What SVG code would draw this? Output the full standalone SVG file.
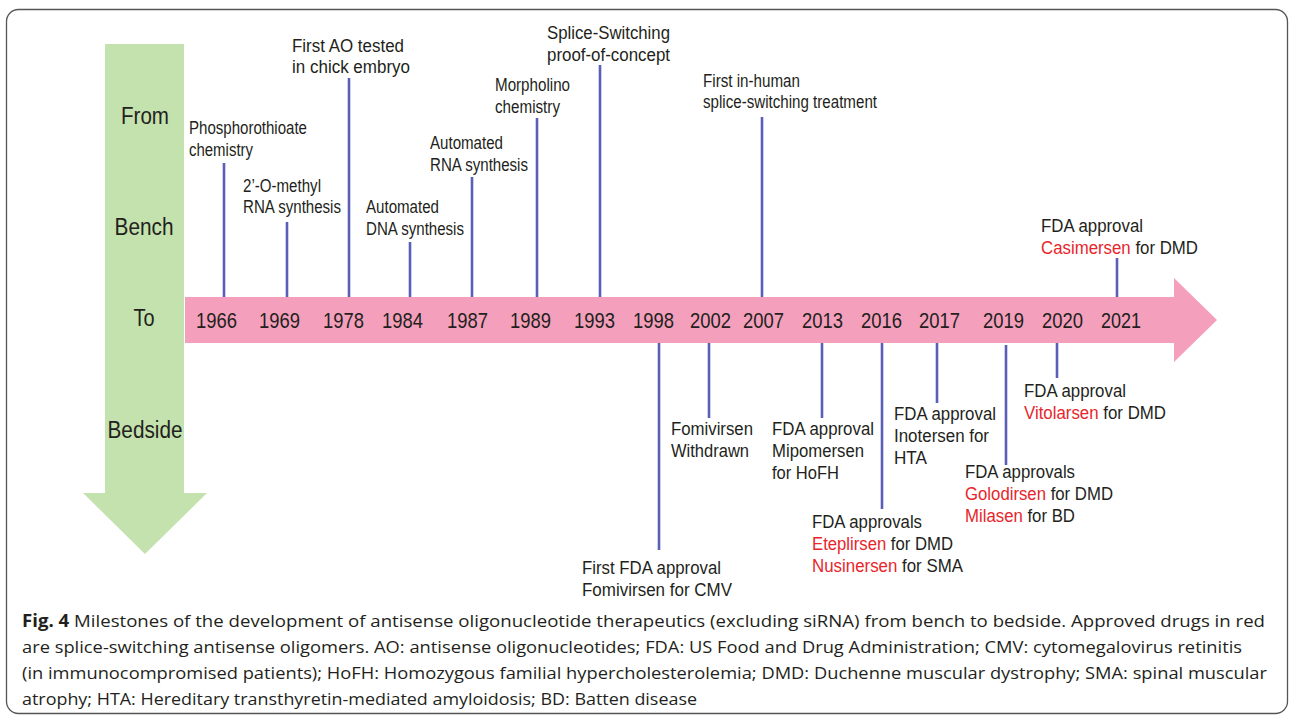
<svg xmlns="http://www.w3.org/2000/svg" width="1292" height="715" viewBox="0 0 1292 715">
<style>
.lbl{font-family:"Liberation Sans",Arial,sans-serif;font-size:17.5px;fill:#231f20}
.red{fill:#e8252b}
.yr{font-family:"Liberation Sans",Arial,sans-serif;font-size:21.5px;fill:#231f20}
.side{font-family:"Liberation Sans",Arial,sans-serif;font-size:23px;fill:#231f20;text-anchor:middle}
.lead{stroke:#5b5eb7;stroke-width:2.6;fill:none}
.cap{font-family:"Open Sans","Noto Sans",sans-serif;font-size:17px;fill:#231f20}
</style>
<rect x="6.5" y="9.5" width="1281" height="704" rx="12" fill="#fff" stroke="#555" stroke-width="1.3"/>
<g id="bench-arrow">
<polygon points="105,44 184,44 184,493 207,493 145,554 83,493 105,493" fill="#c4e2ad"/>
<text class="side" x="145" y="124" textLength="48" lengthAdjust="spacingAndGlyphs">From</text>
<text class="side" x="144" y="235" textLength="59" lengthAdjust="spacingAndGlyphs">Bench</text>
<text class="side" x="144" y="326" textLength="21" lengthAdjust="spacingAndGlyphs">To</text>
<text class="side" x="145" y="438" textLength="75" lengthAdjust="spacingAndGlyphs">Bedside</text>
</g>
<g id="timeline-arrow">
<polygon points="185,297 1174,297 1174,278 1217,320 1174,362 1174,343 185,343" fill="#f49fbb"/>
<g class="yr">
<text x="196" y="328" textLength="41" lengthAdjust="spacingAndGlyphs">1966</text>
<text x="259" y="328" textLength="41" lengthAdjust="spacingAndGlyphs">1969</text>
<text x="323" y="328" textLength="41" lengthAdjust="spacingAndGlyphs">1978</text>
<text x="382" y="328" textLength="41" lengthAdjust="spacingAndGlyphs">1984</text>
<text x="447" y="328" textLength="41" lengthAdjust="spacingAndGlyphs">1987</text>
<text x="510" y="328" textLength="41" lengthAdjust="spacingAndGlyphs">1989</text>
<text x="574" y="328" textLength="41" lengthAdjust="spacingAndGlyphs">1993</text>
<text x="633" y="328" textLength="41" lengthAdjust="spacingAndGlyphs">1998</text>
<text x="690" y="328" textLength="41" lengthAdjust="spacingAndGlyphs">2002</text>
<text x="743" y="328" textLength="41" lengthAdjust="spacingAndGlyphs">2007</text>
<text x="802" y="328" textLength="41" lengthAdjust="spacingAndGlyphs">2013</text>
<text x="861" y="328" textLength="41" lengthAdjust="spacingAndGlyphs">2016</text>
<text x="919" y="328" textLength="41" lengthAdjust="spacingAndGlyphs">2017</text>
<text x="983" y="328" textLength="41" lengthAdjust="spacingAndGlyphs">2019</text>
<text x="1042" y="328" textLength="41" lengthAdjust="spacingAndGlyphs">2020</text>
<text x="1101" y="328" textLength="40" lengthAdjust="spacingAndGlyphs">2021</text>
</g>
</g>
<g id="connectors" class="lead">
<line x1="224" y1="163" x2="224" y2="297"/>
<line x1="287" y1="222" x2="287" y2="297"/>
<line x1="349" y1="78" x2="349" y2="297"/>
<line x1="410" y1="242" x2="410" y2="297"/>
<line x1="472" y1="177" x2="472" y2="297"/>
<line x1="537" y1="118" x2="537" y2="297"/>
<line x1="600" y1="65" x2="600" y2="297"/>
<line x1="762" y1="117" x2="762" y2="297"/>
<line x1="1117" y1="258" x2="1117" y2="297"/>
<line x1="659" y1="343" x2="659" y2="550"/>
<line x1="709" y1="343" x2="709" y2="418"/>
<line x1="822" y1="343" x2="822" y2="418"/>
<line x1="882" y1="343" x2="882" y2="509"/>
<line x1="937" y1="343" x2="937" y2="403"/>
<line x1="1006" y1="345" x2="1006" y2="465"/>
<line x1="1057" y1="343" x2="1057" y2="378"/>
</g>
<g id="m1966" class="lbl">
<text x="189" y="134" textLength="118" lengthAdjust="spacingAndGlyphs">Phosphorothioate</text>
<text x="189" y="156" textLength="64" lengthAdjust="spacingAndGlyphs">chemistry</text>
</g>
<g id="m1969" class="lbl">
<text x="243" y="192" textLength="78" lengthAdjust="spacingAndGlyphs">2’-O-methyl</text>
<text x="243" y="213" textLength="98" lengthAdjust="spacingAndGlyphs">RNA synthesis</text>
</g>
<g id="m1978" class="lbl">
<text x="292" y="52" textLength="112" lengthAdjust="spacingAndGlyphs">First AO tested</text>
<text x="292" y="73" textLength="118" lengthAdjust="spacingAndGlyphs">in chick embryo</text>
</g>
<g id="m1984" class="lbl">
<text x="366" y="213" textLength="73" lengthAdjust="spacingAndGlyphs">Automated</text>
<text x="366" y="235" textLength="98" lengthAdjust="spacingAndGlyphs">DNA synthesis</text>
</g>
<g id="m1987" class="lbl">
<text x="430" y="149" textLength="73" lengthAdjust="spacingAndGlyphs">Automated</text>
<text x="430" y="171" textLength="98" lengthAdjust="spacingAndGlyphs">RNA synthesis</text>
</g>
<g id="m1989" class="lbl">
<text x="495" y="91" textLength="75" lengthAdjust="spacingAndGlyphs">Morpholino</text>
<text x="495" y="113" textLength="65" lengthAdjust="spacingAndGlyphs">chemistry</text>
</g>
<g id="m1993" class="lbl">
<text x="547" y="39" textLength="123" lengthAdjust="spacingAndGlyphs">Splice-Switching</text>
<text x="547" y="61" textLength="123" lengthAdjust="spacingAndGlyphs">proof-of-concept</text>
</g>
<g id="m2007" class="lbl">
<text x="703" y="87" textLength="97" lengthAdjust="spacingAndGlyphs">First in-human</text>
<text x="703" y="108" textLength="174" lengthAdjust="spacingAndGlyphs">splice-switching treatment</text>
</g>
<g id="m2021" class="lbl">
<text x="1041" y="232" textLength="102" lengthAdjust="spacingAndGlyphs">FDA approval</text>
<text x="1041" y="254" textLength="157" lengthAdjust="spacingAndGlyphs"><tspan class="red">Casimersen</tspan> for DMD</text>
</g>
<g id="m1998" class="lbl">
<text x="582" y="574" textLength="139" lengthAdjust="spacingAndGlyphs">First FDA approval</text>
<text x="582" y="596" textLength="150" lengthAdjust="spacingAndGlyphs">Fomivirsen for CMV</text>
</g>
<g id="m2002" class="lbl">
<text x="671" y="435" textLength="82" lengthAdjust="spacingAndGlyphs">Fomivirsen</text>
<text x="671" y="457" textLength="78" lengthAdjust="spacingAndGlyphs">Withdrawn</text>
</g>
<g id="m2013" class="lbl">
<text x="772" y="435" textLength="102" lengthAdjust="spacingAndGlyphs">FDA approval</text>
<text x="772" y="457" textLength="92" lengthAdjust="spacingAndGlyphs">Mipomersen</text>
<text x="772" y="479" textLength="67" lengthAdjust="spacingAndGlyphs">for HoFH</text>
</g>
<g id="m2016" class="lbl">
<text x="812" y="528" textLength="110" lengthAdjust="spacingAndGlyphs">FDA approvals</text>
<text x="812" y="550" textLength="141" lengthAdjust="spacingAndGlyphs"><tspan class="red">Eteplirsen</tspan> for DMD</text>
<text x="812" y="572" textLength="151" lengthAdjust="spacingAndGlyphs"><tspan class="red">Nusinersen</tspan> for SMA</text>
</g>
<g id="m2017" class="lbl">
<text x="894" y="420" textLength="102" lengthAdjust="spacingAndGlyphs">FDA approval</text>
<text x="894" y="442" textLength="95" lengthAdjust="spacingAndGlyphs">Inotersen for</text>
<text x="894" y="464" textLength="33" lengthAdjust="spacingAndGlyphs">HTA</text>
</g>
<g id="m2019" class="lbl">
<text x="965" y="478" textLength="110" lengthAdjust="spacingAndGlyphs">FDA approvals</text>
<text x="965" y="500" textLength="148" lengthAdjust="spacingAndGlyphs"><tspan class="red">Golodirsen</tspan> for DMD</text>
<text x="965" y="522" textLength="110" lengthAdjust="spacingAndGlyphs"><tspan class="red">Milasen</tspan> for BD</text>
</g>
<g id="m2020" class="lbl">
<text x="1024" y="397" textLength="102" lengthAdjust="spacingAndGlyphs">FDA approval</text>
<text x="1024" y="419" textLength="142" lengthAdjust="spacingAndGlyphs"><tspan class="red">Vitolarsen</tspan> for DMD</text>
</g>
<g id="caption" class="cap">
<text x="22" y="627" textLength="1243" lengthAdjust="spacingAndGlyphs"><tspan font-weight="bold">Fig. 4</tspan>  Milestones of the development of antisense oligonucleotide therapeutics (excluding siRNA) from bench to bedside. Approved drugs in red</text>
<text x="22" y="653" textLength="1220" lengthAdjust="spacingAndGlyphs">are splice-switching antisense oligomers. AO: antisense oligonucleotides; FDA: US Food and Drug Administration; CMV: cytomegalovirus retinitis</text>
<text x="22" y="679" textLength="1245" lengthAdjust="spacingAndGlyphs">(in immunocompromised patients); HoFH: Homozygous familial hypercholesterolemia; DMD: Duchenne muscular dystrophy; SMA: spinal muscular</text>
<text x="22" y="705" textLength="675" lengthAdjust="spacingAndGlyphs">atrophy; HTA: Hereditary transthyretin-mediated amyloidosis; BD: Batten disease</text>
</g>
</svg>
